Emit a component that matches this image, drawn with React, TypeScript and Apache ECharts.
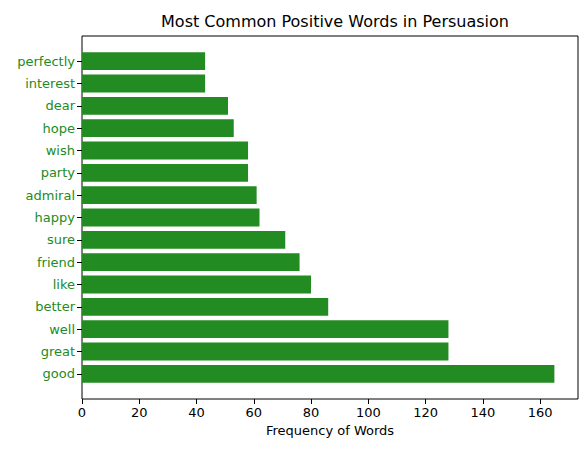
import React, { useEffect, useRef } from "react";
import * as echarts from "echarts";

const words = ["good","great","well","better","like","friend","sure","happy","admiral","party","wish","hope","dear","interest","perfectly"];
const counts = [165,128,128,86,80,76,71,62,61,58,58,53,51,43,43];

export default function App() {
  const ref = useRef<HTMLDivElement>(null);
  useEffect(() => {
    const chart = echarts.init(ref.current!, null, { renderer: "svg" });
    const font = "DejaVu Sans";
    chart.setOption({
      animation: false,
      textStyle: { fontFamily: font },
      title: { text: "Most Common Positive Words in Persuasion", left: 330, top: 8, textAlign: "center",
        textStyle: { fontFamily: font, fontSize: 16, fontWeight: "normal", color: "#000" } },
      grid: { left: 82, right: 9, top: 50, bottom: 70 },
      xAxis: { type: "value", min: 0, max: 173.25, interval: 20, offset: 14,
        name: "Frequency of Words", nameLocation: "middle", nameGap: 22,
        nameTextStyle: { fontFamily: font, fontSize: 13, color: "#000" },
        axisLine: { show: false }, splitLine: { show: false },
        axisTick: { show: true, length: 5, lineStyle: { color: "#000" } },
        axisLabel: { fontFamily: font, fontSize: 13, color: "#000", margin: 7, showMaxLabel: false,
          formatter: (v: number) => (v % 20 === 0 ? String(v) : "") } },
      yAxis: { type: "category", data: words,
        axisLine: { show: false },
        axisTick: { show: true, alignWithLabel: true, length: 5, lineStyle: { color: "#000" } },
        axisLabel: { fontFamily: font, fontSize: 13, color: "#228B22", margin: 7 } },
      series: [{ type: "bar", data: counts, barCategoryGap: "20%", itemStyle: { color: "#228B22" } }],
      graphic: [{ type: "rect", shape: { x: 82, y: 36, width: 496, height: 363 }, silent: true,
        style: { fill: "none", stroke: "#000", lineWidth: 1 } }],
    });
    return () => chart.dispose();
  }, []);
  return <div ref={ref} style={{ width: 587, height: 455, margin: -8 }} />;
}
